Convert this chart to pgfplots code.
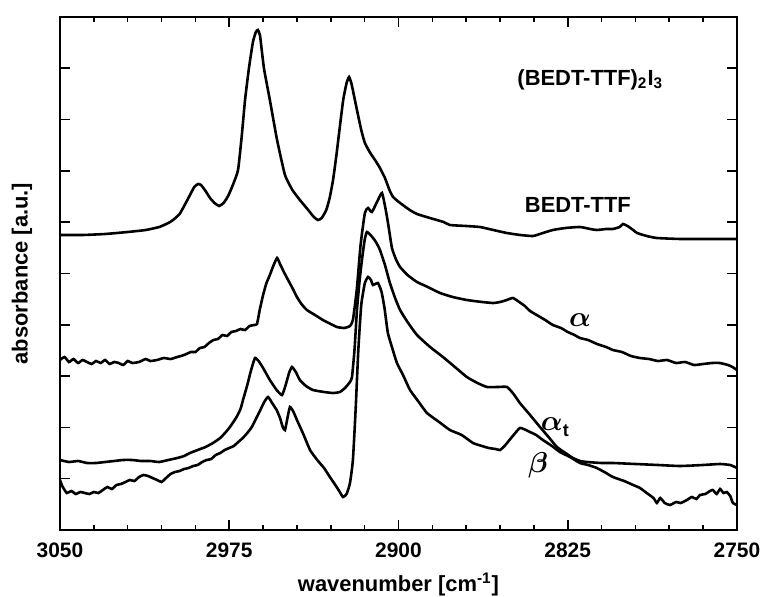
\documentclass[border=0pt]{standalone}
\usepackage{fontspec}
\setsansfont{Liberation Sans}
\usepackage{amsmath}
\usepackage{bm}
\usepackage{pgfplots}
\pgfplotsset{compat=1.18}

\begin{document}
\begin{tikzpicture}
\begin{axis}[
    name=ax,
    scale only axis,
    width=338.5bp, height=256.5bp,
    x dir=reverse,
    xmin=2750, xmax=3050,
    ymin=0, ymax=513,
    xtick={2750,2825,2900,2975,3050},
    xticklabels={2750,2825,2900,2975,3050},
    minor x tick num=4,
    ytick={0,51.3,102.6,153.9,205.2,256.5,307.8,359.1,410.4,461.7,513},
    yticklabels={},
    tick align=inside,
    major tick length=5bp, minor tick length=2.5bp,
    every tick/.style={black, line width=0.8pt},
    axis line style={line width=1pt},
    x tick label style={font=\fontsize{10.5}{12}\selectfont\sffamily\bfseries, yshift=-3bp},
    xlabel={wavenumber [cm\textsuperscript{-1}]},
    ylabel={absorbance [a.u.]},
    label style={font=\fontsize{11}{13}\selectfont\sffamily\bfseries},
    x label style={at={(axis description cs:0.5,-0.107)}, anchor=center},
    y label style={at={(axis description cs:-0.056,0.5)}, anchor=center},
    spec/.style={black, line width=1.3pt, smooth, tension=0.3, no markers},
]
% BEDT-TTF
\addplot[spec] coordinates {
(3050,295) (3040,295) (3030,296) (3020,298) (3012,300) (3006,303) (3002,307)
(2999.9,310) (2997,316) (2994.5,326) (2992.4,335) (2990.5,343) (2988.8,346)
(2987.5,345) (2985.5,339) (2983.5,332) (2981.5,327) (2979.5,324) (2977.5,327)
(2975.5,334) (2973.4,345) (2971.1,360) (2969.5,393) (2968,430) (2966.2,463)
(2964.5,488) (2963.2,498) (2962.3,500) (2961.4,495) (2960.5,478) (2959.5,460)
(2957,430) (2953.8,390) (2950.3,355) (2947,340) (2943.7,330) (2940,320)
(2937.5,313) (2935.7,310) (2934,312) (2932,320) (2930.5,332) (2929,350)
(2927.5,375) (2926,403) (2924.5,430) (2923,447) (2921.9,453) (2920.8,446)
(2919.5,432) (2918.4,420) (2916.5,400) (2914.9,387) (2912.5,377) (2910.4,370)
(2908.2,362) (2906,352) (2904,340) (2902.4,333) (2899.3,327) (2895,320)
(2891.8,316) (2886.1,312) (2880,308) (2877.2,305) (2870,304) (2863.9,303)
(2858,300) (2852,297) (2846,295) (2840.4,294) (2836,297) (2831.6,300)
(2826,302) (2819.6,303) (2815,301) (2812.1,300) (2808,301) (2805,301)
(2802,303) (2800.5,306) (2798.5,304) (2796,300) (2794.3,297) (2790,294)
(2785.5,292) (2775,291) (2760,291) (2750,291)
};
% alpha
\addplot[spec] coordinates {
(3050,170) (3048,173) (3046,168) (3044,171) (3042,167) (3040,170) (3038,168)
(3036,166) (3034,169) (3032,167) (3030,170) (3028,166) (3026,168) (3024,167)
(3022,165) (3020,169) (3018,167) (3015,168) (3012,171) (3010,169) (3007,170)
(3004,172) (3001,171) (2998,173) (2995,175) (2992,178) (2990,178) (2988,182)
(2986,183) (2984,187) (2982,190) (2980,191) (2978,195) (2976,194) (2974,198)
(2972,199) (2970,201) (2968,200) (2966,204) (2964,205) (2962.7,206)
(2961.5,220) (2960,235) (2958.5,247) (2957,255) (2955.5,264) (2953.8,272)
(2952.5,266) (2951,259) (2949.4,252) (2947,242) (2945,233) (2943,226)
(2940.6,220) (2937,215) (2933.5,210) (2930,206) (2927.3,203) (2924,202)
(2921.5,204) (2920.2,210) (2918.5,240) (2916.8,285) (2914.9,317) (2913.5,322)
(2911.8,318) (2909.1,330) (2907.3,337) (2905.8,322) (2904.5,305) (2902.9,282)
(2901,270) (2899.3,263) (2896,255) (2891.8,248) (2887,243) (2881.6,237)
(2876,233) (2869.7,230) (2863,228) (2858,227) (2855,228) (2852,230)
(2849.3,232) (2846.5,228) (2844,224) (2841.7,219) (2838,214) (2835,210)
(2831.6,205) (2828,202) (2825,198) (2822,195) (2819.6,192) (2816,190)
(2812,186) (2808,183) (2805,180) (2801,178) (2797,174) (2793,172) (2789,171)
(2785,169) (2781,170) (2777,167) (2773,168) (2769,165) (2765,166) (2761,167)
(2757.6,167) (2754,165) (2752,163) (2750,160)
};
% alpha_t
\addplot[spec] coordinates {
(3050,70) (3046,68) (3042,69) (3038,67) (3034,67) (3030,68) (3026,69)
(3022,70) (3018,70) (3014,69) (3010,69) (3006,68) (3002,70) (2998,72)
(2995,74) (2992.4,77) (2989,80) (2985.5,83) (2982.2,87) (2979,92)
(2976.5,98) (2974.7,103) (2972,112) (2970,121) (2968.9,130) (2967,145)
(2965.3,160) (2963.6,172) (2962,169) (2960,162) (2957,150) (2954,140)
(2951.6,135) (2950,145) (2948.5,157) (2947.2,163) (2945.5,158) (2943.7,150)
(2941,144) (2937.9,140) (2933,138) (2929,137) (2926,138) (2923.7,142)
(2921.5,148) (2920.6,153) (2919.5,180) (2918.4,220) (2917.3,248) (2916.2,270)
(2915,290) (2914,298) (2912,294) (2910,288) (2908.2,280) (2906,265)
(2903.8,247) (2901.5,232) (2899.3,220) (2896,208) (2891.8,195) (2886,183)
(2880.3,173) (2875,163) (2869.7,153) (2865,147) (2860.8,143) (2856,143)
(2851.9,143) (2849,136) (2846.2,127) (2841.7,115) (2837.3,103) (2833.5,93)
(2829.8,83) (2826,77) (2822.7,72) (2819.5,69) (2816.5,68) (2810,67)
(2805,67) (2795,66) (2785,65) (2775.3,64) (2765,65) (2757.6,66) (2753,65)
(2750,62)
};
% beta
\addplot[spec] coordinates {
(3050,50) (3049,44) (3047,37) (3045,39) (3043,36) (3041,38) (3039,37)
(3037,36) (3035,38) (3033,37) (3031,40) (3029,43) (3027,41) (3025,45)
(3023,46) (3021,48) (3019,50) (3017,49) (3015,53) (3013,55) (3011,54)
(3009,52) (3007,50) (3005,48) (3003,52) (3001,56) (2999,58) (2997,59)
(2995,61) (2993,62) (2991,64) (2989,65) (2987,68) (2985,70) (2983,71)
(2981,75) (2979,77) (2977,80) (2975,82) (2973,84) (2971,88) (2969,92)
(2967,97) (2965,103) (2963,112) (2961,121) (2959.5,128) (2957.8,133)
(2956,127) (2954,120) (2952.5,112) (2951.3,103) (2950.3,100) (2949.2,112)
(2948.1,123) (2946.5,118) (2945,110) (2942,95) (2939.2,80) (2936,70)
(2933,62) (2930.4,53) (2928,45) (2926,38) (2924.6,33) (2923,36) (2921.5,47)
(2920.2,70) (2919,120) (2917.8,180) (2916.5,225) (2914.9,247) (2913.5,253)
(2912.2,250) (2911.3,245) (2909.1,247) (2907.5,238) (2906.2,222) (2904.7,197)
(2902.5,180) (2900.7,167) (2898,155) (2894.9,140) (2891,128) (2887.4,117)
(2882,108) (2877.2,100) (2872,95) (2867,87) (2863,84) (2860,82) (2857,81)
(2855,80) (2853,84) (2851.9,87) (2849,95) (2846.2,102) (2843.5,100)
(2841.7,98) (2839,95) (2836,90) (2832,84) (2828.5,78) (2824,73) (2819.6,67)
(2816,65) (2812.1,62) (2808,57) (2805,53) (2800,49) (2796,45) (2793,42)
(2790,37) (2787,32) (2785.5,27) (2784,32) (2782,27) (2779.7,25) (2777,28)
(2775,27) (2772.2,30) (2770,33) (2768,31) (2766.4,35) (2764,36) (2762,39)
(2760.7,40) (2759,36) (2757.5,41) (2756,37) (2754.5,38) (2753,34)
(2751.8,27) (2750,25)
};
\node[font=\fontsize{11}{13}\selectfont\sffamily\bfseries] at (axis cs:2815,450)
    {(BEDT-TTF)\textsubscript{2}I\textsubscript{3}};
\node[font=\fontsize{11}{13}\selectfont\sffamily\bfseries] at (axis cs:2820.5,325) {BEDT-TTF};
\node[font=\fontsize{14}{16}\selectfont] at (axis cs:2819.6,210) {$\bm{\alpha}$};
\node[font=\fontsize{14}{16}\selectfont] at (axis cs:2830.7,103)
    {$\bm{\alpha}$\raisebox{-3bp}{\fontsize{9}{10}\selectfont\sffamily\bfseries t}};
\node[font=\fontsize{14}{16}\selectfont] at (axis cs:2838.2,65) {$\bm{\beta}$};
\end{axis}
\pgfresetboundingbox
\path[use as bounding box] ([shift={(-30bp,-33.5bp)}]ax.south west)
    rectangle ([shift={(12bp,8.5bp)}]ax.north east);
\end{tikzpicture}
\end{document}
